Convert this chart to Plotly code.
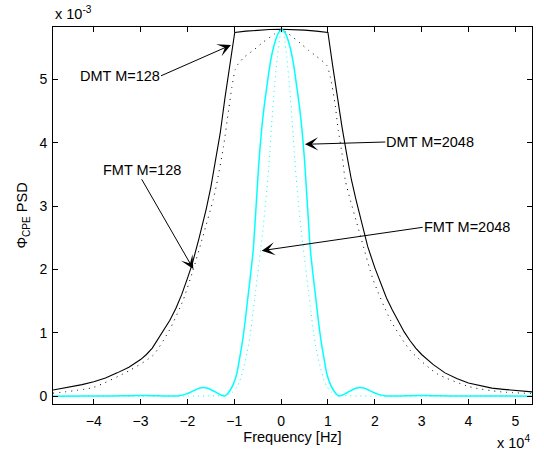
import plotly.graph_objects as go

# Frequency in units of 1e4 Hz, PSD in units of 1e-3
freq_dmt128 = [-4.87, -4.5, -4.25, -4.0, -3.75, -3.5, -3.25, -3.0, -2.875, -2.75, -2.625, -2.5, -2.375, -2.25, -2.125,
               -2.0, -1.9, -1.75, -1.6, -1.5, -1.4, -1.3, -1.2, -1.1, -0.99,
               -0.75, -0.5, -0.25, 0.0, 0.25, 0.5, 0.75, 1.0,
               1.1, 1.2, 1.3, 1.4, 1.5, 1.6, 1.7, 1.85, 2.0, 2.125, 2.25, 2.375, 2.5, 2.625, 2.75, 2.875, 3.0,
               3.25, 3.5, 3.75, 4.0, 4.25, 4.5, 4.75, 5.0, 5.36]
psd_dmt128 = [0.10, 0.15, 0.185, 0.23, 0.29, 0.37, 0.46, 0.58, 0.66, 0.76, 0.90, 1.05, 1.20, 1.38, 1.60,
              1.86, 2.08, 2.50, 2.95, 3.30, 3.70, 4.15, 4.70, 5.22, 5.74,
              5.76, 5.775, 5.785, 5.79, 5.785, 5.775, 5.76, 5.74,
              5.22, 4.72, 4.25, 3.82, 3.42, 3.10, 2.80, 2.36, 2.03, 1.78, 1.55, 1.36, 1.19, 1.02, 0.88, 0.76, 0.66,
              0.50, 0.37, 0.28, 0.21, 0.165, 0.13, 0.11, 0.09, 0.07]

freq_fmt128 = [-4.87, -4.01, -3.23, -2.73, -2.38, -2.09, -1.88, -1.67, -1.45, -1.38, -1.23, -1.12, -1.05, -0.98, -0.91,
               -0.77, -0.59, -0.376, -0.13, 0.0, 0.15, 0.41, 0.58, 0.76, 0.975, 1.05, 1.15, 1.22, 1.30, 1.37,
               1.69, 1.97, 2.33, 2.75, 3.32, 4.03, 4.7, 5.36]
psd_fmt128 = [0.05, 0.14, 0.41, 0.65, 1.05, 1.52, 1.99, 2.52, 3.10, 3.33, 3.94, 4.52, 4.88, 5.15, 5.25,
              5.36, 5.46, 5.59, 5.72, 5.78, 5.72, 5.57, 5.46, 5.36, 5.22, 5.04, 4.62, 4.20, 3.83, 3.41,
              2.54, 1.83, 1.21, 0.73, 0.36, 0.15, 0.07, 0.045]

freq_dmt2048 = [-4.87, -4.185, -3.585, -3.185, -2.885, -2.585, -2.385, -2.185, -2.035, -1.935, -1.835, -1.735, -1.655,
                -1.585, -1.485, -1.385, -1.285, -1.205, -1.145, -1.085, -1.015, -0.945, -0.885, -0.82, -0.765,
                -0.715, -0.655, -0.595, -0.525, -0.485, -0.455, -0.41, -0.36, -0.305, -0.235, -0.16, -0.065,
                0.015,
                0.095, 0.19, 0.265, 0.335, 0.39, 0.44, 0.485, 0.515, 0.555, 0.625, 0.685, 0.745, 0.795, 0.85,
                0.915, 0.975, 1.045, 1.115, 1.175, 1.235, 1.315, 1.415, 1.515, 1.615, 1.685, 1.765, 1.865,
                1.965, 2.065, 2.215, 2.415, 2.615, 2.915, 3.215, 3.615, 4.215, 5.36]
psd_dmt2048 = [0.003, 0.004, 0.005, 0.010, 0.014, 0.008, 0.004, 0.010, 0.035, 0.065, 0.10, 0.13, 0.14,
               0.13, 0.10, 0.06, 0.02, 0.005, 0.04, 0.10, 0.20, 0.36, 0.60, 0.89, 1.20,
               1.52, 1.90, 2.31, 3.10, 3.57, 3.87, 4.25, 4.58, 4.88, 5.24, 5.51, 5.72,
               5.78,
               5.72, 5.51, 5.24, 4.88, 4.58, 4.25, 3.87, 3.57, 3.10, 2.31, 1.90, 1.52, 1.20, 0.89,
               0.60, 0.36, 0.20, 0.10, 0.04, 0.005, 0.02, 0.06, 0.10, 0.13, 0.14, 0.13, 0.10,
               0.065, 0.035, 0.010, 0.004, 0.008, 0.014, 0.010, 0.005, 0.004, 0.003]

freq_fmt2048 = [-4.87, -3.98, -2.98, -1.98, -1.58, -1.28, -1.13, -1.03, -0.94, -0.88, -0.795, -0.73, -0.655, -0.60,
                -0.54, -0.48, -0.40, -0.33, -0.26, -0.20, -0.14, -0.08, -0.03, 0.02, 0.07, 0.12, 0.18, 0.24,
                0.30, 0.37, 0.44, 0.52, 0.58, 0.64, 0.695, 0.77, 0.835, 0.92, 0.98, 1.07, 1.17, 1.32, 1.62,
                2.02, 3.02, 4.02, 5.36]
psd_fmt2048 = [0.002, 0.002, 0.003, 0.004, 0.006, 0.012, 0.03, 0.07, 0.15, 0.25, 0.47, 0.68, 0.99, 1.32,
               1.68, 2.05, 2.55, 3.05, 3.65, 4.30, 4.90, 5.35, 5.65, 5.78, 5.65, 5.35, 4.90, 4.30,
               3.65, 3.05, 2.55, 2.05, 1.68, 1.32, 0.99, 0.68, 0.47, 0.25, 0.15, 0.07, 0.03, 0.012, 0.006,
               0.004, 0.003, 0.002, 0.002]

x_ticks = [-4, -3, -2, -1, 0, 1, 2, 3, 4, 5]
y_ticks = [0, 1, 2, 3, 4, 5]

# label text, anchors, arrow tail (text anchor point), arrow tip (data units)
labels = [
    ("DMT M=128", "right", "middle", -2.564, 5.055, -1.070, 5.541),
    ("FMT M=128", "center", "bottom", -2.976, 3.423, -1.874, 2.008),
    ("DMT M=2048", "left", "middle", 2.225, 4.011, 0.510, 3.975),
    ("FMT M=2048", "left", "middle", 3.023, 2.666, -0.414, 2.297),
]

FONT = "Liberation Sans, Arial, Helvetica, sans-serif"

fig = go.Figure()
fig.add_trace(go.Scatter(x=freq_dmt128, y=psd_dmt128, mode="lines",
                         line=dict(color="black", width=1.1)))
fig.add_trace(go.Scatter(x=freq_fmt128, y=psd_fmt128, mode="lines",
                         line=dict(color="black", width=1, dash="1px,5px", shape="spline", smoothing=0.6)))
fig.add_trace(go.Scatter(x=freq_dmt2048, y=psd_dmt2048, mode="lines",
                         line=dict(color="#00FFFF", width=1.5, shape="spline", smoothing=0.6)))
fig.add_trace(go.Scatter(x=freq_fmt2048, y=psd_fmt2048, mode="lines",
                         line=dict(color="#00FFFF", width=1, dash="1px,4px", shape="spline", smoothing=0.6)))

annotations = []
for text, xa, ya, ax, ay, hx, hy in labels:
    annotations.append(dict(x=hx, y=hy, ax=ax, ay=ay, xref="x", yref="y", axref="x", ayref="y",
                            text=text, showarrow=True, arrowhead=3, arrowsize=2.2, arrowwidth=1,
                            arrowcolor="black", standoff=0, xanchor=xa, yanchor=ya, borderpad=0,
                            font=dict(size=14.5, color="black", family=FONT)))

annotations.append(dict(x=0, y=(404 - 13) / 377, xref="paper", yref="paper", xanchor="left", yanchor="middle",
                        text="x 10<sup>-3</sup>", showarrow=False, font=dict(size=14.5, color="black", family=FONT)))
annotations.append(dict(x=1, y=(404 - 442) / 377, xref="paper", yref="paper", xanchor="right", yanchor="middle",
                        text="x 10<sup>4</sup>", showarrow=False, font=dict(size=14.5, color="black", family=FONT)))

axis_common = dict(showline=True, linecolor="black", linewidth=1, mirror="ticks", ticks="inside",
                   ticklen=5, tickcolor="black", showgrid=False, zeroline=False,
                   tickfont=dict(size=14, color="black", family=FONT))

fig.update_layout(
    width=544, height=454,
    margin=dict(l=53, r=12, t=27, b=50),
    paper_bgcolor="white", plot_bgcolor="white",
    showlegend=False,
    font=dict(family=FONT, size=14, color="black"),
    annotations=annotations,
    xaxis=dict(range=[-4.87, 5.357], tickvals=x_ticks, ticklabelstandoff=4, **axis_common,
               title=dict(text="Frequency [Hz]", font=dict(size=14.5), standoff=3)),
    yaxis=dict(range=[-0.121, 5.825], tickvals=y_ticks, ticklabelstandoff=2, **axis_common,
               title=dict(text="Φ<sub>CPE</sub> PSD", font=dict(size=14.5), standoff=8)),
)

fig.write_html("out.html")
